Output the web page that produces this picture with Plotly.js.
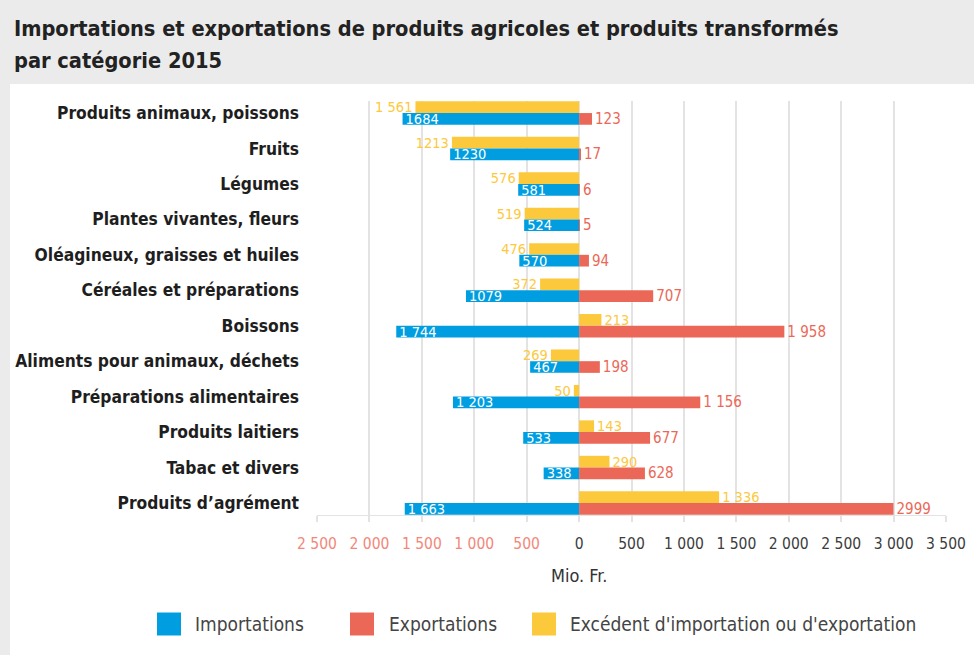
<!DOCTYPE html>
<html>
<head>
<meta charset="utf-8">
<script src="https://cdn.plot.ly/plotly-3.0.1.min.js"></script>
<style>
  html, body { margin: 0; padding: 0; background: #ebebeb; }
  #chart { width: 974px; height: 655px; }
</style>
</head>
<body>
<div id="chart"></div>
<script>
const categories = [
  "Produits animaux, poissons",
  "Fruits",
  "Légumes",
  "Plantes vivantes, fleurs",
  "Oléagineux, graisses et huiles",
  "Céréales et préparations",
  "Boissons",
  "Aliments pour animaux, déchets",
  "Préparations alimentaires",
  "Produits laitiers",
  "Tabac et divers",
  "Produits d’agrément"
];
const importations = [1684, 1230, 581, 524, 570, 1079, 1744, 467, 1203, 533, 338, 1663];
const exportations = [123, 17, 6, 5, 94, 707, 1958, 198, 1156, 677, 628, 2999];
const excedent = [-1561, -1213, -576, -519, -476, -372, 213, -269, -50, 143, 290, 1336];

const importLabels = ["1684", "1230", "581", "524", "570", "1079", "1 744", "467", "1 203", "533", "338", "1 663"];
const exportLabels = ["123", "17", "6", "5", "94", "707", "1 958", "198", "1 156", "677", "628", "2999"];
const excedentLabels = ["1 561", "1213", "576", "519", "476", "372", "213", "269", "50", "143", "290", "1 336"];

const tickValues = [-2500, -2000, -1500, -1000, -500, 0, 500, 1000, 1500, 2000, 2500, 3000, 3500];
const tickLabels = ["2 500", "2 000", "1 500", "1 000", "500", "0", "500", "1 000", "1 500", "2 000", "2 500", "3 000", "3 500"];

const legendNames = ["Importations", "Exportations", "Excédent d'importation ou d'exportation"];

const FONT = "'DejaVu Sans Condensed', 'Liberation Sans Narrow', 'Roboto Condensed', Roboto, sans-serif";
const BLUE = "#009ee0", RED = "#eb6858", YELLOW = "#fdc93c";
const NEG_TICK = "#f2877a", POS_TICK = "#3c3c3c";

const coloredTicks = tickLabels.map((t, i) =>
  '<span style="color:' + (tickValues[i] < 0 ? NEG_TICK : POS_TICK) + '">' + t + '</span>');

const traces = [
  {
    type: "bar", orientation: "h", name: legendNames[2],
    y: categories, x: excedent, text: excedentLabels,
    textposition: "outside", textfont: {color: YELLOW, size: 14.5, family: FONT},
    marker: {color: YELLOW}, offset: -0.33, width: 0.33,
    cliponaxis: false, constraintext: "none", hoverinfo: "x+y"
  },
  {
    type: "bar", orientation: "h", name: legendNames[0],
    y: categories, x: importations.map(v => -v), text: importLabels,
    textposition: "inside", insidetextanchor: "end",
    insidetextfont: {color: "#ffffff", size: 14.5, family: FONT},
    marker: {color: BLUE}, offset: 0, width: 0.33,
    cliponaxis: false, constraintext: "none", hoverinfo: "x+y"
  },
  {
    type: "bar", orientation: "h", name: legendNames[1],
    y: categories, x: exportations, text: exportLabels,
    textposition: "outside", textfont: {color: RED, size: 15, family: FONT},
    marker: {color: RED}, offset: 0, width: 0.33,
    cliponaxis: false, constraintext: "none", hoverinfo: "x+y"
  }
];

// pixel helpers for layout (plot area: x 317..946, y 101..515)
const PL = 317, PW = 629, PB = 515, PH = 414;
const px = v => (v - PL) / PW;
const py = v => (PB - v) / PH;

const legendColors = [BLUE, RED, YELLOW];
const legendKeyX = [157, 350, 532];
const legendTextX = [193, 387, 568];
const legendY = 624;

const shapes = [{
  type: "rect", layer: "below", xref: "paper", yref: "paper",
  x0: px(10), x1: px(974), y0: py(655), y1: py(84),
  fillcolor: "#ffffff", line: {width: 0}
}];
legendColors.forEach((c, i) => shapes.push({
  type: "rect", xref: "paper", yref: "paper",
  x0: px(legendKeyX[i]), x1: px(legendKeyX[i] + 24),
  y0: py(legendY + 11.5), y1: py(legendY - 11.5),
  fillcolor: c, line: {width: 0}
}));

const annotations = [
  {
    text: "<b>Importations et exportations de produits agricoles et produits transformés</b>",
    xref: "paper", yref: "paper", x: px(12), y: py(28), xanchor: "left", yanchor: "middle",
    showarrow: false, font: {family: FONT, size: 21.6, color: "#222222"}
  },
  {
    text: "<b>par catégorie 2015</b>",
    xref: "paper", yref: "paper", x: px(12), y: py(60), xanchor: "left", yanchor: "middle",
    showarrow: false, font: {family: FONT, size: 21.6, color: "#222222"}
  },
  {
    text: "Mio. Fr.", xref: "x", x: 0, yref: "paper", y: py(575),
    xanchor: "center", yanchor: "middle", showarrow: false,
    font: {family: FONT, size: 18, color: "#333333"}
  }
];
legendNames.forEach((n, i) => annotations.push({
  text: n, xref: "paper", yref: "paper", x: px(legendTextX[i]), y: py(legendY),
  xanchor: "left", yanchor: "middle", showarrow: false,
  font: {family: FONT, size: 19, color: "#444444"}
}));

const layout = {
  width: 974, height: 655,
  paper_bgcolor: "#ebebeb", plot_bgcolor: "rgba(0,0,0,0)",
  margin: {l: 317, r: 28, t: 101, b: 140},
  barmode: "overlay",
  showlegend: false,
  font: {family: FONT, color: "#222"},
  xaxis: {
    range: [-2500, 3500], tickmode: "array", tickvals: tickValues, ticktext: coloredTicks,
    showgrid: true, gridcolor: "#e3e3e3", gridwidth: 2, zeroline: false,
    showline: true, linecolor: "#e3e3e3", linewidth: 1,
    ticks: "outside", ticklen: 6, tickcolor: "#e3e3e3", tickwidth: 2,
    ticklabelstandoff: 8,
    tickfont: {family: FONT, size: 15.5}, fixedrange: true
  },
  yaxis: {
    type: "category", range: [11.34, -0.34],
    showgrid: false, zeroline: false, showline: false, ticks: "",
    ticklabelstandoff: 17,
    tickfont: {family: FONT, size: 17.3, color: "#1e1e1e", weight: "bold"},
    fixedrange: true
  },
  shapes: shapes,
  annotations: annotations
};

Plotly.newPlot("chart", traces, layout, {displayModeBar: false});
</script>
</body>
</html>
